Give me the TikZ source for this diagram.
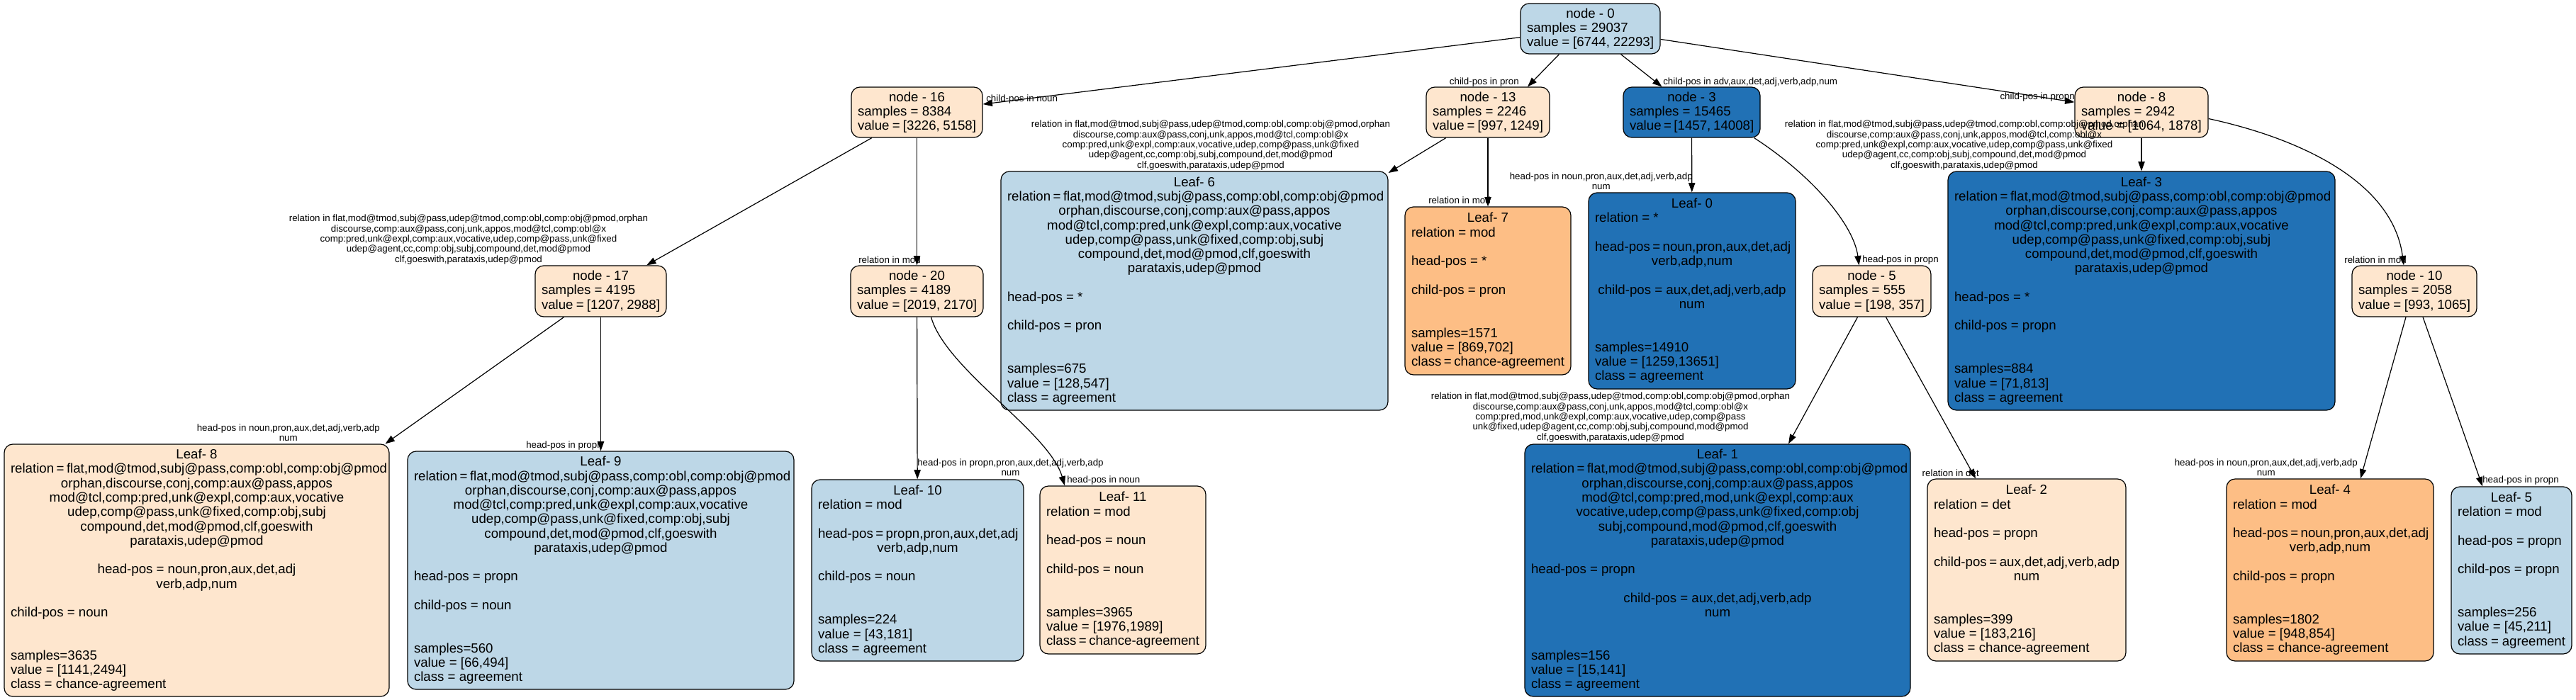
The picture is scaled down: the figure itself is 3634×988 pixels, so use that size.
\documentclass[tikz,border=0pt]{standalone}
\usepackage{fontspec}
\setmainfont{Liberation Sans}
\usetikzlibrary{arrows.meta,calc}
\definecolor{lblue}{HTML}{BDD7E7}
\definecolor{cream}{HTML}{FEE6CE}
\definecolor{orng}{HTML}{FDBE85}
\definecolor{dblue}{HTML}{2171B5}
\newcommand\TLc[1]{\hbox to\hsize{\hfil#1\hfil}}
\newcommand\TLl[1]{\hbox to\hsize{#1\hfil}}
\newcommand\TLe{\hbox{}}
\newcommand\mkbox[7]{\node[tbx,fill=#6,minimum width=#4*0.75pt,minimum height=#5*0.75pt] (#1) at (#2,#3) {\vbox{\hsize=\dimexpr(#4pt-18pt)*3/4\relax\baselineskip=15.2pt\lineskiplimit=-20pt #7}};}
\begin{document}
\begin{tikzpicture}[x=0.75pt,y=-0.75pt,
 tbx/.style={draw=black,line width=0.9pt,rounded corners=9pt,inner sep=0pt,font=\fontsize{14}{15.2}\selectfont},
 edge/.style={line width=0.9pt,-{Triangle[length=10pt,width=7pt]}},
 elab/.style={font=\fontsize{10}{10.8}\selectfont,inner sep=0pt,align=center}]
\useasboundingbox (0,0) rectangle (3634,988);
% ---------- internal nodes
\mkbox{n0}{2243.5}{40.5}{197}{71}{lblue}{\TLc{node - 0}\TLl{samples = 29037}\TLl{value = [6744, 22293]}}
\mkbox{n16}{1293.5}{158.5}{185}{71}{cream}{\TLc{node - 16}\TLl{samples = 8384}\TLl{value = [3226, 5158]}}
\mkbox{n13}{2099}{158.5}{174}{71}{cream}{\TLc{node - 13}\TLl{samples = 2246}\TLl{value = [997, 1249]}}
\mkbox{n3}{2386.5}{158.5}{193}{71}{dblue}{\TLc{node - 3}\TLl{samples = 15465}\TLl{value = [1457, 14008]}}
\mkbox{n8}{3021}{158.5}{188}{71}{cream}{\TLc{node - 8}\TLl{samples = 2942}\TLl{value = [1064, 1878]}}
\mkbox{n17}{847.5}{411}{185}{72}{cream}{\TLc{node - 17}\TLl{samples = 4195}\TLl{value = [1207, 2988]}}
\mkbox{n20}{1293.5}{411}{187}{72}{cream}{\TLc{node - 20}\TLl{samples = 4189}\TLl{value = [2019, 2170]}}
\mkbox{n5}{2640.5}{411}{167}{72}{cream}{\TLc{node - 5}\TLl{samples = 555}\TLl{value = [198, 357]}}
\mkbox{n10}{3406}{411}{176}{72}{cream}{\TLc{node - 10}\TLl{samples = 2058}\TLl{value = [993, 1065]}}
% ---------- leaves
\mkbox{L8}{277.5}{805}{543}{356}{cream}{\TLc{Leaf- 8}
\TLc{relation = flat,mod@tmod,subj@pass,comp:obl,comp:obj@pmod}
\TLc{orphan,discourse,conj,comp:aux@pass,appos}
\TLc{mod@tcl,comp:pred,unk@expl,comp:aux,vocative}
\TLc{udep,comp@pass,unk@fixed,comp:obj,subj}
\TLc{compound,det,mod@pmod,clf,goeswith}
\TLc{parataxis,udep@pmod}
\TLe
\TLc{head-pos = noun,pron,aux,det,adj}
\TLc{verb,adp,num}
\TLe
\TLl{child-pos = noun}
\TLe\TLe
\TLl{samples=3635}
\TLl{value = [1141,2494]}
\TLl{class = chance-agreement}}
\mkbox{L9}{847.5}{805}{545}{336}{lblue}{\TLc{Leaf- 9}
\TLc{relation = flat,mod@tmod,subj@pass,comp:obl,comp:obj@pmod}
\TLc{orphan,discourse,conj,comp:aux@pass,appos}
\TLc{mod@tcl,comp:pred,unk@expl,comp:aux,vocative}
\TLc{udep,comp@pass,unk@fixed,comp:obj,subj}
\TLc{compound,det,mod@pmod,clf,goeswith}
\TLc{parataxis,udep@pmod}
\TLe
\TLl{head-pos = propn}
\TLe
\TLl{child-pos = noun}
\TLe\TLe
\TLl{samples=560}
\TLl{value = [66,494]}
\TLl{class = agreement}}
\mkbox{L10}{1294.5}{805}{299}{256}{lblue}{\TLc{Leaf- 10}
\TLl{relation = mod}
\TLe
\TLc{head-pos = propn,pron,aux,det,adj}
\TLc{verb,adp,num}
\TLe
\TLl{child-pos = noun}
\TLe\TLe
\TLl{samples=224}
\TLl{value = [43,181]}
\TLl{class = agreement}}
\mkbox{L11}{1584}{804.5}{234}{237}{cream}{\TLc{Leaf- 11}
\TLl{relation = mod}
\TLe
\TLl{head-pos = noun}
\TLe
\TLl{child-pos = noun}
\TLe\TLe
\TLl{samples=3965}
\TLl{value = [1976,1989]}
\TLl{class = chance-agreement}}
\mkbox{L6}{1685}{410.5}{546}{337}{lblue}{\TLc{Leaf- 6}
\TLc{relation = flat,mod@tmod,subj@pass,comp:obl,comp:obj@pmod}
\TLc{orphan,discourse,conj,comp:aux@pass,appos}
\TLc{mod@tcl,comp:pred,unk@expl,comp:aux,vocative}
\TLc{udep,comp@pass,unk@fixed,comp:obj,subj}
\TLc{compound,det,mod@pmod,clf,goeswith}
\TLc{parataxis,udep@pmod}
\TLe
\TLl{head-pos = *}
\TLe
\TLl{child-pos = pron}
\TLe\TLe
\TLl{samples=675}
\TLl{value = [128,547]}
\TLl{class = agreement}}
\mkbox{L7}{2099}{410.5}{234}{237}{orng}{\TLc{Leaf- 7}
\TLl{relation = mod}
\TLe
\TLl{head-pos = *}
\TLe
\TLl{child-pos = pron}
\TLe\TLe
\TLl{samples=1571}
\TLl{value = [869,702]}
\TLl{class = chance-agreement}}
\mkbox{L0}{2387}{410.5}{292}{277}{dblue}{\TLc{Leaf- 0}
\TLl{relation = *}
\TLe
\TLc{head-pos = noun,pron,aux,det,adj}
\TLc{verb,adp,num}
\TLe
\TLc{child-pos = aux,det,adj,verb,adp}
\TLc{num}
\TLe\TLe
\TLl{samples=14910}
\TLl{value = [1259,13651]}
\TLl{class = agreement}}
\mkbox{L3}{3021}{410.5}{546}{337}{dblue}{\TLc{Leaf- 3}
\TLc{relation = flat,mod@tmod,subj@pass,comp:obl,comp:obj@pmod}
\TLc{orphan,discourse,conj,comp:aux@pass,appos}
\TLc{mod@tcl,comp:pred,unk@expl,comp:aux,vocative}
\TLc{udep,comp@pass,unk@fixed,comp:obj,subj}
\TLc{compound,det,mod@pmod,clf,goeswith}
\TLc{parataxis,udep@pmod}
\TLe
\TLl{head-pos = *}
\TLe
\TLl{child-pos = propn}
\TLe\TLe
\TLl{samples=884}
\TLl{value = [71,813]}
\TLl{class = agreement}}
\mkbox{L1}{2423}{805}{544}{356}{dblue}{\TLc{Leaf- 1}
\TLc{relation = flat,mod@tmod,subj@pass,comp:obl,comp:obj@pmod}
\TLc{orphan,discourse,conj,comp:aux@pass,appos}
\TLc{mod@tcl,comp:pred,mod,unk@expl,comp:aux}
\TLc{vocative,udep,comp@pass,unk@fixed,comp:obj}
\TLc{subj,compound,mod@pmod,clf,goeswith}
\TLc{parataxis,udep@pmod}
\TLe
\TLl{head-pos = propn}
\TLe
\TLc{child-pos = aux,det,adj,verb,adp}
\TLc{num}
\TLe\TLe
\TLl{samples=156}
\TLl{value = [15,141]}
\TLl{class = agreement}}
\mkbox{L2}{2859}{804.5}{280}{257}{cream}{\TLc{Leaf- 2}
\TLl{relation = det}
\TLe
\TLl{head-pos = propn}
\TLe
\TLc{child-pos = aux,det,adj,verb,adp}
\TLc{num}
\TLe\TLe
\TLl{samples=399}
\TLl{value = [183,216]}
\TLl{class = chance-agreement}}
\mkbox{L4}{3287}{804.5}{292}{257}{orng}{\TLc{Leaf- 4}
\TLl{relation = mod}
\TLe
\TLc{head-pos = noun,pron,aux,det,adj}
\TLc{verb,adp,num}
\TLe
\TLl{child-pos = propn}
\TLe\TLe
\TLl{samples=1802}
\TLl{value = [948,854]}
\TLl{class = chance-agreement}}
\mkbox{L5}{3543}{805}{170}{236}{lblue}{\TLc{Leaf- 5}
\TLl{relation = mod}
\TLe
\TLl{head-pos = propn}
\TLe
\TLl{child-pos = propn}
\TLe\TLe
\TLl{samples=256}
\TLl{value = [45,211]}
\TLl{class = agreement}}
% ---------- edges
\draw[edge] (n0) -- (n16);
\draw[edge] ($(n0.south)+(-44,0)$) -- ($(n13.north)+(56,0)$);
\draw[edge] ($(n0.south)+(43,0)$) -- ($(n3.north)+(-42,0)$);
\draw[edge] (n0) -- (n8);
\draw[edge] (n16) -- (n17);
\draw[edge] (n16) -- (n20);
\draw[edge] (n13) -- (L6);
\draw[edge] (n13) -- (L7);
\draw[edge] (n3) -- (L0);
\draw[edge] ($(n3.south east)+(-9,0)$) .. controls ($(n3.south east)+(77,56)$) and ($(n5.north)+(-25,-55)$) .. ($(n5.north)+(-18,0)$);
\draw[edge] ($(n5.south)+(-20,0)$) -- ($(L1.north)+(100,0)$);
\draw[edge] ($(n5.south)+(20,0)$) -- ($(L2.north)+(-72,0)$);
\draw[edge] (n8) -- (L3);
\draw[edge] ($(n8.east)+(0,9)$) .. controls ($(n8.east)+(125,36)$) and ($(n10.north)+(-31,-120)$) .. ($(n10.north)+(-15,0)$);
\draw[edge] ($(n17.south)+(-52,0)$) -- ($(L8.north)+(266,0)$);
\draw[edge] (n17) -- (n17 |- L9.north);
\draw[edge] (n20) -- (L10);
\draw[edge] ($(n20.south)+(20,0)$) .. controls ($(n20.south)+(41,74)$) and ($(L11.north)+(-104,-76)$) .. ($(L11.north)+(-82,0)$);
\draw[edge] ($(n10.south)+(-12,0)$) -- ($(L4.north)+(43,0)$);
\draw[edge] ($(n10.south)+(12,0)$) -- ($(L5.north)+(-41,0)$);
% ---------- edge labels
\node[elab,anchor=west] (la) at (1391,140) {child-pos in noun};
\node[elab,anchor=east] (lb) at (2143,116) {child-pos in pron};
\node[elab,anchor=west] (lc) at (2346,116) {child-pos in adv,aux,det,adj,verb,adp,num};
\node[elab,anchor=east] (ld) at (2927,137) {child-pos in propn};
\node[elab] (le) at (661,338) {relation in flat,mod@tmod,subj@pass,udep@tmod,comp:obl,comp:obj@pmod,orphan\\discourse,comp:aux@pass,conj,unk,appos,mod@tcl,comp:obl@x\\comp:pred,unk@expl,comp:aux,vocative,udep,comp@pass,unk@fixed\\udep@agent,cc,comp:obj,subj,compound,det,mod@pmod\\clf,goeswith,parataxis,udep@pmod};
\node[elab,anchor=east] (lf) at (1299,367) {relation in mod};
\node[elab] (lg) at (1708,205) {relation in flat,mod@tmod,subj@pass,udep@tmod,comp:obl,comp:obj@pmod,orphan\\discourse,comp:aux@pass,conj,unk,appos,mod@tcl,comp:obl@x\\comp:pred,unk@expl,comp:aux,vocative,udep,comp@pass,unk@fixed\\udep@agent,cc,comp:obj,subj,compound,det,mod@pmod\\clf,goeswith,parataxis,udep@pmod};
\node[elab,anchor=east] (lh) at (2103,283) {relation in mod};
\node[elab,anchor=east] (li) at (2388,256) {head-pos in noun,pron,aux,det,adj,verb,adp\\num};
\node[elab,anchor=west] (lj) at (2627,367) {head-pos in propn};
\node[elab] (lk) at (2272,589) {relation in flat,mod@tmod,subj@pass,udep@tmod,comp:obl,comp:obj@pmod,orphan\\discourse,comp:aux@pass,conj,unk,appos,mod@tcl,comp:obl@x\\comp:pred,mod,unk@expl,comp:aux,vocative,udep,comp@pass\\unk@fixed,udep@agent,cc,comp:obj,subj,compound,mod@pmod\\clf,goeswith,parataxis,udep@pmod};
\node[elab,anchor=east] (ll) at (2792,668) {relation in det};
\node[elab] (lm) at (2771,205) {relation in flat,mod@tmod,subj@pass,udep@tmod,comp:obl,comp:obj@pmod,orphan\\discourse,comp:aux@pass,conj,unk,appos,mod@tcl,comp:obl@x\\comp:pred,unk@expl,comp:aux,vocative,udep,comp@pass,unk@fixed\\udep@agent,cc,comp:obj,subj,compound,det,mod@pmod\\clf,goeswith,parataxis,udep@pmod};
\node[elab,anchor=east] (ln) at (3395,367) {relation in mod};
\node[elab,anchor=east] (lo) at (536,611) {head-pos in noun,pron,aux,det,adj,verb,adp\\num};
\node[elab,anchor=east] (lp) at (850,629) {head-pos in propn};
\node[elab,anchor=west] (lq) at (1294,660) {head-pos in propn,pron,aux,det,adj,verb,adp\\num};
\node[elab,anchor=west] (lr) at (1505,678) {head-pos in noun};
\node[elab,anchor=east] (ls) at (3326,660) {head-pos in noun,pron,aux,det,adj,verb,adp\\num};
\node[elab,anchor=west] (lt) at (3502,678) {head-pos in propn};
\end{tikzpicture}
\end{document}
